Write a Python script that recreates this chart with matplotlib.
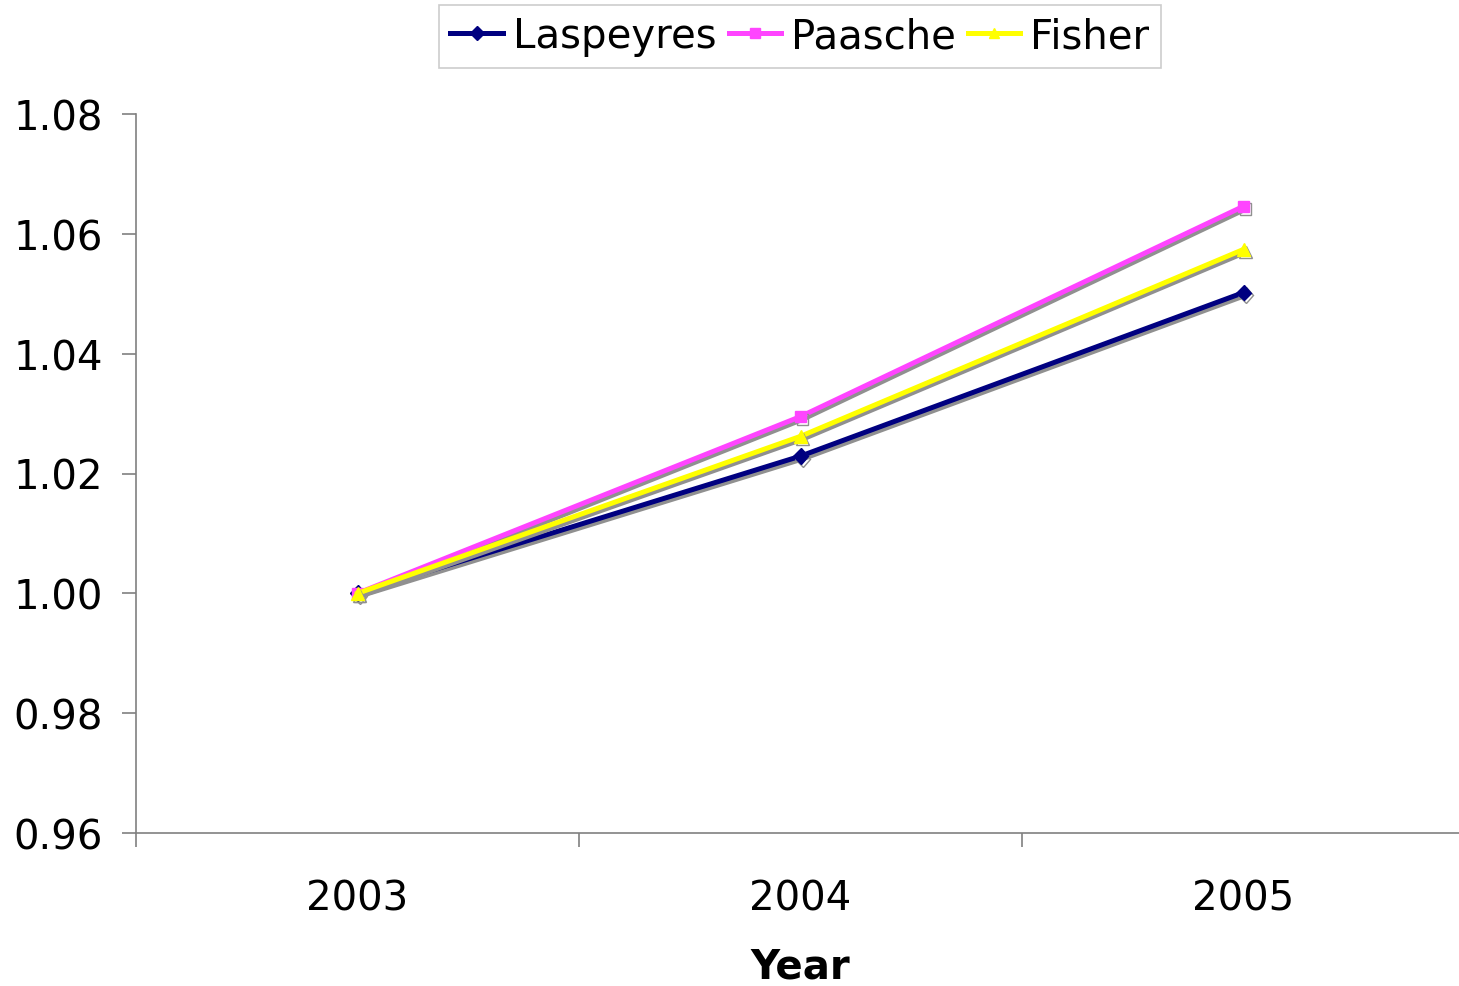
import matplotlib
matplotlib.use("Agg")
import matplotlib.pyplot as plt
import matplotlib.patheffects as pe

# price index values
years = ["2003", "2004", "2005"]
laspeyres = [1.0000, 1.0229, 1.0502]
paasche = [1.0000, 1.0295, 1.0646]
fisher = [1.0000, 1.0262, 1.0574]
yticks = [0.96, 0.98, 1.00, 1.02, 1.04, 1.06, 1.08]

fig = plt.figure(figsize=(14.59, 9.87), dpi=100)
ax = fig.add_axes([136 / 1459, 1 - 834 / 987, 1329 / 1459, (834 - 115) / 987])

shadow = [pe.SimpleLineShadow(offset=(1.5, -2), shadow_color='#909090', alpha=1.0), pe.Normal()]
x = list(range(len(years)))

ax.plot(x, laspeyres, color='#000080', lw=3.6, marker='D', ms=8,
        label='Laspeyres', path_effects=shadow)
ax.plot(x, paasche, color='#FF44FF', lw=3.6, marker='s', ms=8,
        label='Paasche', path_effects=shadow)
ax.plot(x, fisher, color='#FFFF00', lw=3.6, marker='^', ms=9,
        label='Fisher', path_effects=shadow)

ax.set_xlim(-0.5, 2.5)
ax.set_ylim(0.96, 1.08)
ax.set_yticks(yticks)
ax.set_yticklabels(["%.2f" % v for v in yticks])
ax.set_xticks(x)
ax.set_xticklabels(years)
ax.set_xticks([-0.5, 0.5, 1.5, 2.5], minor=True)

ax.tick_params(axis='y', length=10, width=1.2, color='#808080', pad=14, labelsize=29)
ax.tick_params(axis='x', which='major', length=0, pad=33, labelsize=29)
ax.tick_params(axis='x', which='minor', length=10, width=1.2, color='#808080')

for s in ['top', 'right']:
    ax.spines[s].set_visible(False)
for s in ['left', 'bottom']:
    ax.spines[s].set_color('#808080')
    ax.spines[s].set_linewidth(1.2)

ax.set_xlabel('Year', fontsize=29, fontweight='bold', labelpad=20)

leg = fig.legend(loc='upper center', bbox_to_anchor=(800 / 1459, 1 - 6 / 987), ncol=3,
                 fontsize=29, frameon=True, fancybox=False, handlelength=1.3,
                 handletextpad=0.25, columnspacing=0.3, borderpad=0.28,
                 borderaxespad=0)
leg.get_frame().set_edgecolor('#C0C0C0')
leg.get_frame().set_linewidth(1.2)
for h in leg.get_lines():
    h.set_path_effects([])
    h.set_markersize(7)

fig.savefig('out.png', dpi=100)
